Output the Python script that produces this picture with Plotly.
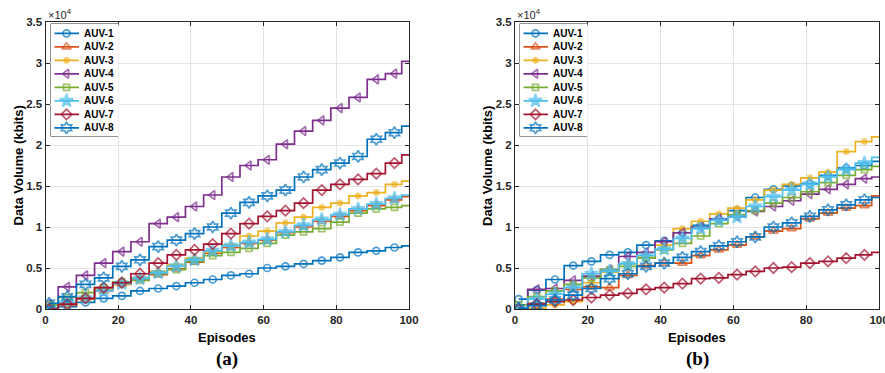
import plotly.graph_objects as go

episodes = [1, 6, 11, 16, 21, 26, 31, 36, 41, 46, 51, 56, 61, 66, 71, 76, 81, 86, 91, 96, 100]
names = ["AUV-1", "AUV-2", "AUV-3", "AUV-4", "AUV-5", "AUV-6", "AUV-7", "AUV-8"]

# Panel (a) values, in units of 10^4 kbits
a_auv1 = [0.01, 0.03, 0.08, 0.13, 0.16, 0.22, 0.25, 0.28, 0.32, 0.36, 0.41, 0.43, 0.50, 0.52, 0.55, 0.59, 0.63, 0.69, 0.71, 0.75, 0.77]
a_auv2 = [0.00, 0.05, 0.12, 0.22, 0.30, 0.36, 0.42, 0.49, 0.57, 0.68, 0.75, 0.80, 0.84, 0.93, 1.00, 1.07, 1.13, 1.20, 1.26, 1.33, 1.37]
a_auv3 = [0.00, 0.06, 0.13, 0.24, 0.30, 0.38, 0.46, 0.54, 0.62, 0.70, 0.78, 0.89, 0.95, 1.05, 1.12, 1.24, 1.29, 1.38, 1.42, 1.52, 1.56]
a_auv4 = [0.06, 0.27, 0.41, 0.56, 0.70, 0.82, 1.04, 1.12, 1.25, 1.39, 1.61, 1.75, 1.82, 2.01, 2.17, 2.30, 2.45, 2.58, 2.80, 2.87, 3.02]
a_auv5 = [0.05, 0.14, 0.20, 0.26, 0.33, 0.35, 0.43, 0.48, 0.58, 0.65, 0.69, 0.74, 0.80, 0.90, 0.94, 0.98, 1.06, 1.17, 1.22, 1.24, 1.26]
a_auv6 = [0.00, 0.08, 0.13, 0.22, 0.31, 0.37, 0.44, 0.52, 0.60, 0.71, 0.77, 0.81, 0.85, 0.94, 1.02, 1.09, 1.15, 1.22, 1.28, 1.35, 1.39]
a_auv7 = [0.00, 0.06, 0.13, 0.26, 0.32, 0.43, 0.56, 0.66, 0.72, 0.79, 0.92, 1.04, 1.13, 1.20, 1.29, 1.45, 1.52, 1.58, 1.65, 1.78, 1.88]
a_auv8 = [0.07, 0.15, 0.30, 0.38, 0.52, 0.60, 0.76, 0.84, 0.92, 1.00, 1.17, 1.30, 1.38, 1.45, 1.61, 1.70, 1.78, 1.86, 2.07, 2.15, 2.23]

# Panel (b) values, in units of 10^4 kbits
b_auv1 = [0.12, 0.23, 0.36, 0.53, 0.58, 0.66, 0.69, 0.78, 0.83, 0.93, 1.02, 1.10, 1.20, 1.36, 1.46, 1.50, 1.53, 1.63, 1.72, 1.75, 1.80]
b_auv2 = [0.00, 0.07, 0.12, 0.24, 0.27, 0.26, 0.41, 0.53, 0.56, 0.56, 0.65, 0.72, 0.78, 0.88, 0.95, 0.98, 1.10, 1.17, 1.23, 1.26, 1.38]
b_auv3 = [0.00, 0.01, 0.05, 0.09, 0.32, 0.45, 0.55, 0.63, 0.78, 0.98, 1.07, 1.16, 1.23, 1.33, 1.45, 1.52, 1.60, 1.67, 1.92, 2.04, 2.10]
b_auv4 = [0.00, 0.24, 0.25, 0.35, 0.40, 0.48, 0.64, 0.69, 0.82, 0.93, 1.00, 1.10, 1.13, 1.19, 1.25, 1.32, 1.40, 1.46, 1.52, 1.59, 1.61]
b_auv5 = [0.05, 0.15, 0.22, 0.30, 0.38, 0.48, 0.52, 0.62, 0.72, 0.80, 0.89, 1.04, 1.15, 1.20, 1.29, 1.36, 1.43, 1.54, 1.63, 1.70, 1.74]
b_auv6 = [0.00, 0.12, 0.18, 0.26, 0.43, 0.46, 0.55, 0.65, 0.73, 0.86, 0.98, 1.08, 1.12, 1.25, 1.37, 1.45, 1.52, 1.61, 1.70, 1.78, 1.85]
b_auv7 = [0.00, 0.06, 0.09, 0.11, 0.14, 0.17, 0.19, 0.24, 0.26, 0.31, 0.37, 0.38, 0.42, 0.46, 0.50, 0.51, 0.56, 0.58, 0.62, 0.66, 0.69]
b_auv8 = [0.01, 0.04, 0.11, 0.17, 0.25, 0.37, 0.43, 0.52, 0.56, 0.63, 0.70, 0.77, 0.82, 0.88, 1.00, 1.05, 1.13, 1.21, 1.27, 1.33, 1.36]

y_ticks = [0, 0.5, 1, 1.5, 2, 2.5, 3, 3.5]
y_ticklabels = ["0", "0.5", "1", "1.5", "2", "2.5", "3", "3.5"]
x_ticks = [0, 20, 40, 60, 80, 100]

panel_a = [a_auv1, a_auv2, a_auv3, a_auv4, a_auv5, a_auv6, a_auv7, a_auv8]
panel_b = [b_auv1, b_auv2, b_auv3, b_auv4, b_auv5, b_auv6, b_auv7, b_auv8]

colors = ["#0072BD", "#D95319", "#EDB120", "#7E2F8E", "#77AC30", "#4DBEEE", "#A2142F", "#0072BD"]
symbols = ["circle-open", "triangle-up-open", "asterisk-open", "triangle-left-open",
           "square-open", "star", "diamond-open", "hexagram-open"]
sizes = [7, 8, 6, 8, 6, 10, 8, 9]
LW = 1.7

W, H = 885, 373


def px_x(p):
    return p / W


def px_y(p):
    return 1 - p / H


fig = go.Figure()

for panel, xa, ya in [(panel_a, "x", "y"), (panel_b, "x2", "y2")]:
    for i, vals in enumerate(panel):
        n = len(vals)
        msizes = [sizes[i]] * (n - 1) + [0]
        fig.add_trace(go.Scatter(
            x=episodes, y=vals, name=names[i], xaxis=xa, yaxis=ya, showlegend=False,
            mode="lines+markers", line=dict(color=colors[i], width=LW, shape="hvh"),
            marker=dict(symbol=symbols[i], size=msizes, color=colors[i],
                        line=dict(color=colors[i], width=LW)),
        ))

axis_common = dict(
    showline=True, linecolor="#262626", linewidth=1, mirror="ticks",
    ticks="inside", ticklen=4, tickcolor="#262626", automargin=False,
    ticklabeloverflow="allow",
    showgrid=True, gridcolor="#e3e3e3", gridwidth=1, zeroline=False,
    tickfont=dict(family="Liberation Sans, Arial", size=11.5, color="#262626", weight="bold"),
)

yd = [px_y(309), px_y(22)]
layout = dict(
    width=W, height=H, margin=dict(l=0, r=0, t=0, b=0, autoexpand=False),
    paper_bgcolor="white", plot_bgcolor="white", showlegend=False,
    xaxis=dict(domain=[px_x(45.5), px_x(409)], range=[0, 100], tickvals=x_ticks, anchor="y", **axis_common),
    yaxis=dict(domain=yd, range=[0, 3.5], tickvals=y_ticks, ticktext=y_ticklabels, anchor="x", **axis_common),
    xaxis2=dict(domain=[px_x(515), px_x(879)], range=[0, 100], tickvals=x_ticks, anchor="y2", **axis_common),
    yaxis2=dict(domain=yd, range=[0, 3.5], tickvals=y_ticks, ticktext=y_ticklabels, anchor="x2", **axis_common),
)

# Custom legends (box geometry in pixels), drawn on hidden overlay axes
leg_top, leg_bot = 23.5, 136.5
row0, row_step = 33.3, 13.5
shapes = []
ann = []
for k, left in enumerate([51, 520]):
    right = left + 67.5
    xn, yn = f"xaxis{3 + k}", f"yaxis{3 + k}"
    xr, yr = f"x{3 + k}", f"y{3 + k}"
    hidden = dict(visible=False, showgrid=False, zeroline=False, fixedrange=True, automargin=False)
    layout[xn] = dict(domain=[px_x(left), px_x(right)], range=[left, right], anchor=yr, **hidden)
    layout[yn] = dict(domain=[px_y(leg_bot), px_y(leg_top)], range=[leg_bot, leg_top], anchor=xr, **hidden)
    shapes.append(dict(type="rect", xref=f"{xr} domain", yref=f"{yr} domain", x0=0, x1=1, y0=0, y1=1,
                       fillcolor="white", line=dict(color="#262626", width=1), layer="below"))
    for i, nm in enumerate(names):
        yy = row0 + row_step * i
        fig.add_trace(go.Scatter(
            x=[left + 3.5, left + 15.5, left + 28], y=[yy, yy, yy], xaxis=xr, yaxis=yr,
            mode="lines+markers", showlegend=False, hoverinfo="skip",
            line=dict(color=colors[i], width=LW),
            marker=dict(symbol=symbols[i], size=[0, sizes[i], 0], color=colors[i],
                        line=dict(color=colors[i], width=LW)),
        ))
        ann.append(dict(x=left + 31, y=yy, xref=xr, yref=yr, text=nm, showarrow=False,
                        xanchor="left", yanchor="middle",
                        font=dict(family="Liberation Sans, Arial", size=10, color="black", weight="bold")))

bold = dict(family="Liberation Sans, Arial", size=13, color="black", weight="bold")
for cx0, cx1, lab in [(45.5, 409, "(a)"), (515, 879, "(b)")]:
    cx = (cx0 + cx1) / 2
    ann.append(dict(x=px_x(cx), y=px_y(337.5), xref="paper", yref="paper", text="Episodes",
                    showarrow=False, font=bold, xanchor="center", yanchor="middle"))
    ann.append(dict(x=px_x(cx), y=px_y(359), xref="paper", yref="paper", text=lab,
                    showarrow=False,
                    font=dict(family="Liberation Serif, Times New Roman", size=19, color="black", weight="bold"),
                    xanchor="center", yanchor="middle"))
    ann.append(dict(x=px_x(cx0 - 28), y=px_y(166), xref="paper", yref="paper", text="Data Volume (kbits)",
                    showarrow=False, font=bold, textangle=-90, xanchor="center", yanchor="middle"))
    ann.append(dict(x=px_x(cx0), y=px_y(14), xref="paper", yref="paper", text="×10<sup>4</sup>",
                    showarrow=False, font=dict(family="Liberation Sans, Arial", size=11, color="#262626"),
                    xanchor="left", yanchor="middle"))

layout["shapes"] = shapes
layout["annotations"] = ann
fig.update_layout(**layout)

fig.write_html("out.html")
